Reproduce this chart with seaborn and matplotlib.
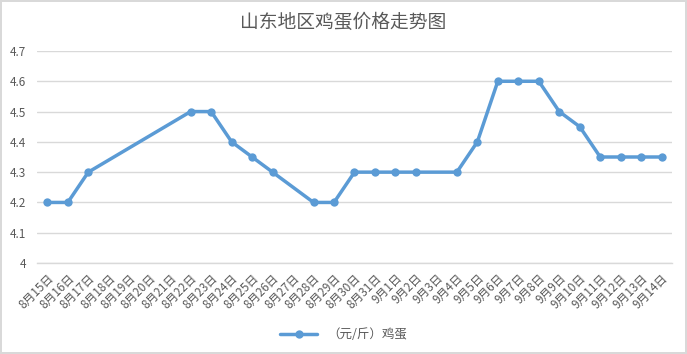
import matplotlib
matplotlib.use('Agg')
import matplotlib.pyplot as plt
import seaborn as sns
import pandas as pd
import numpy as np

# 山东地区鸡蛋价格
dates = ['8月15日', '8月16日', '8月17日', '8月18日', '8月19日', '8月20日', '8月21日',
         '8月22日', '8月23日', '8月24日', '8月25日', '8月26日', '8月27日', '8月28日',
         '8月29日', '8月30日', '8月31日', '9月1日', '9月2日', '9月3日', '9月4日',
         '9月5日', '9月6日', '9月7日', '9月8日', '9月9日', '9月10日', '9月11日',
         '9月12日', '9月13日', '9月14日']
prices = [4.2, 4.2, 4.3, None, None, None, None,
          4.5, 4.5, 4.4, 4.35, 4.3, None, 4.2,
          4.2, 4.3, 4.3, 4.3, 4.3, None, 4.3,
          4.4, 4.6, 4.6, 4.6, 4.5, 4.45, 4.35,
          4.35, 4.35, 4.35]
y_ticks = [4, 4.1, 4.2, 4.3, 4.4, 4.5, 4.6, 4.7]
series_name = '（元/斤）鸡蛋'
title = '山东地区鸡蛋价格走势图'

sns.set_style('white')
plt.rcParams['font.family'] = ['Noto Sans CJK SC', 'DejaVu Sans']

df = pd.DataFrame({'date': dates, 'price': prices})
df['pos'] = np.arange(len(dates))
df = df.dropna()

fig = plt.figure(figsize=(6.87, 3.54), dpi=100, edgecolor='#D9D9D9', linewidth=1.5)
ax = fig.add_axes([0.054, 0.257, 0.924, 0.599])

sns.lineplot(data=df, x='pos', y='price', ax=ax, color='#5B9BD5', linewidth=2.5,
             marker='o', markersize=6, markeredgewidth=0, label=series_name)

ax.set_xlim(-0.5, len(dates) - 0.5)
ax.set_ylim(4, 4.7)
ax.set_yticks(y_ticks)
ax.set_yticklabels([f'{v:g}' for v in y_ticks])
ax.yaxis.grid(True, color='#D9D9D9', linewidth=1)
ax.set_axisbelow(True)

ax.set_xticks(np.arange(len(dates)))
ax.set_xticklabels(dates, rotation=45, ha='right', rotation_mode='anchor')
ax.set_xticks(np.arange(len(dates) + 1) - 0.5, minor=True)
ax.tick_params(axis='x', which='major', length=0, pad=6, labelsize=8.5, labelcolor='#595959')
ax.tick_params(axis='x', which='minor', length=5, color='#D9D9D9', width=1)
ax.tick_params(axis='y', length=0, labelsize=8.5, labelcolor='#595959', pad=8)

for s in ['top', 'right', 'left']:
    ax.spines[s].set_visible(False)
ax.spines['bottom'].set_color('#D9D9D9')
ax.spines['bottom'].set_linewidth(1)
ax.set_xlabel('')
ax.set_ylabel('')

fig.suptitle(title, y=0.965, fontsize=13.5, color='#595959')
handles, labels = ax.get_legend_handles_labels()
ax.get_legend().remove()
fig.legend(handles, labels, loc='center', bbox_to_anchor=(0.5, 0.054), frameon=False,
           fontsize=9, labelcolor='#595959', handlelength=3)

fig.savefig('out.png', dpi=100, edgecolor=fig.get_edgecolor())
